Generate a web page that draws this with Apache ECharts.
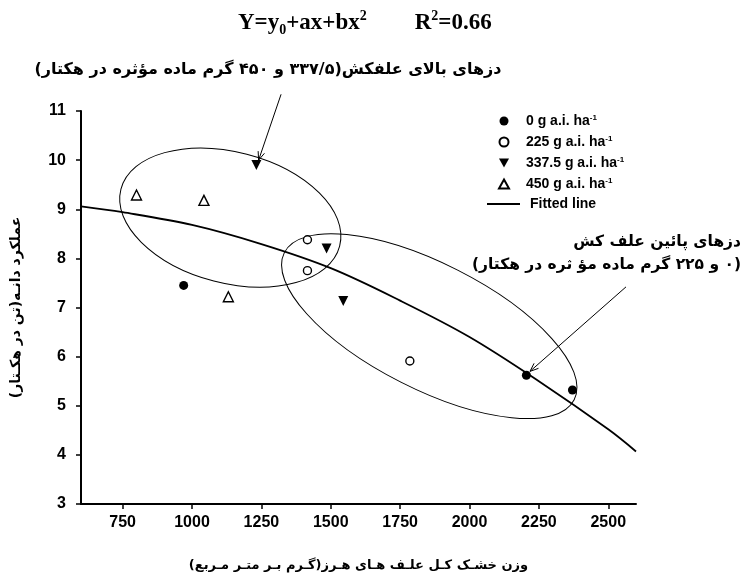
<!DOCTYPE html>
<html><head><meta charset="utf-8">
<script src="https://cdn.jsdelivr.net/npm/echarts@6/dist/echarts.min.js"></script>
<style>html,body{margin:0;padding:0;background:#fff}#c{width:748px;height:579px}</style>
</head><body><div id="c"></div>
<script>
// ---- data ----
const xTicks = [750, 1000, 1250, 1500, 1750, 2000, 2250, 2500];
const dose0    = [[970, 7.45], [2205, 5.62], [2371, 5.32]];
const dose225  = [[1416, 8.38], [1416, 7.75], [1785, 5.91]];
const dose3375 = [[1232, 9.90], [1485, 8.20], [1545, 7.13]];
const dose450  = [[800, 9.29], [1043, 9.18], [1131, 7.22]];
const fitted   = [[600, 9.06], [750, 8.94], [1000, 8.68], [1250, 8.29], [1500, 7.80], [1750, 7.14], [2000, 6.40], [2250, 5.50], [2500, 4.52], [2600, 4.07]];
const seriesNames = ['0 g a.i. ha', '225 g a.i. ha', '337.5 g a.i. ha', '450 g a.i. ha', 'Fitted line'];
const xName = 'وزن خشـک کـل علـف هـای هـرز(گـرم بـر متـر مـربع)';
const yName = 'عملکرد دانـه(تن در هکـتار)';
const noteHigh = '\u200Fدزهای بالای علفکش(۳۳۷/۵ و ۴۵۰ گرم ماده مؤثره در هکتار)\u200F';
const noteLow1 = '\u200Fدزهای پائین علف کش\u200F';
const noteLow2 = '\u200F(۰ و ۲۲۵ گرم ماده مؤ ثره در هکتار)\u200F';
// annotation geometry (data space centres / anchors)
const ellipseHigh = {c: [1138, 8.83]};
const ellipseLow  = {c: [1855, 6.62]};
const arrowHigh = {from: [1321, 11.34], to: [1240, 10.0]};
const arrowLow  = {from: [2564, 7.42], to: [2218, 5.70]};

const F = "'Liberation Sans',Arial,sans-serif";
const AR = "'DejaVu Sans',sans-serif";

const chart = echarts.init(document.getElementById('c'));
const open = {color: '#fff', borderColor: '#000', borderWidth: 1.4, opacity: 1};
const solid = {color: '#000', opacity: 1};
chart.setOption({
  animation: false,
  backgroundColor: '#fff',
  title: {
    text: '{n|Y=y}{sub|0}{n|+ax+bx}{sup|2}{g|}{n|R}{sup|2}{n|=0.66}',
    left: 233, top: 4,
    textStyle: {
      rich: {
        n: {fontFamily: "'Liberation Serif','Times New Roman',serif", fontSize: 23, color: '#000', lineHeight: 28, verticalAlign: 'middle'},
        sub: {fontFamily: "'Liberation Serif',serif", fontSize: 14, color: '#000', lineHeight: 16, verticalAlign: 'bottom'},
        sup: {fontFamily: "'Liberation Serif',serif", fontSize: 14, color: '#000', lineHeight: 14, verticalAlign: 'top'},
        g: {width: 48}
      }
    }
  },
  grid: {left: 81, right: 112, top: 111, bottom: 75, containLabel: false, outerBoundsMode: 'none'},
  legend: [{
    orient: 'vertical', left: 493, top: 109,
    itemWidth: 10, itemHeight: 9, itemGap: 7, symbolRotate: 0,
    data: [
      {name: seriesNames[0], icon: 'circle'},
      {name: seriesNames[1], icon: 'circle'},
      {name: seriesNames[2], icon: 'path://M0,0L10,0L5,9Z'},
      {name: seriesNames[3], icon: 'path://M5,0L10,9L0,9Z'}
    ],
    formatter: n => '{t|' + n + '}{s|-1}',
    textStyle: {
      rich: {
        t: {fontFamily: F, fontWeight: 'bold', fontSize: 14, color: '#000', lineHeight: 14, padding: [0, 0, 0, 12]},
        s: {fontFamily: F, fontWeight: 'bold', fontSize: 8, color: '#000', lineHeight: 8, verticalAlign: 'top'}
      }
    }
  }, {
    orient: 'vertical', left: 482, top: 192,
    itemWidth: 33, itemHeight: 2, icon: 'rect',
    data: [seriesNames[4]],
    formatter: n => '{t|' + n + '}',
    textStyle: {
      rich: {
        t: {fontFamily: F, fontWeight: 'bold', fontSize: 14, color: '#000', lineHeight: 14, padding: [0, 0, 0, 5]}
      }
    }
  }],
  xAxis: {
    type: 'value', min: 600, max: 2600,
    name: xName, nameLocation: 'middle', nameGap: 55,
    nameTextStyle: {fontFamily: AR, fontWeight: 'bold', fontSize: 13, color: '#000'},
    axisLine: {show: true, lineStyle: {color: '#000', width: 2}},
    axisTick: {show: true, length: 5, lineStyle: {color: '#000', width: 1.5}, customValues: xTicks},
    axisLabel: {customValues: xTicks, margin: 11, fontFamily: F, fontWeight: 'bold', fontSize: 16, color: '#000', formatter: v => String(v)},
    splitLine: {show: false}
  },
  yAxis: {
    type: 'value', min: 3, max: 11, interval: 1,
    name: yName, nameLocation: 'middle', nameGap: 58,
    nameTextStyle: {fontFamily: AR, fontWeight: 'bold', fontSize: 14, color: '#000'},
    axisLine: {show: true, lineStyle: {color: '#000', width: 2}},
    axisTick: {show: true, length: 5, lineStyle: {color: '#000', width: 1.5}},
    axisLabel: {margin: 15, fontFamily: F, fontWeight: 'bold', fontSize: 16, color: '#000'},
    splitLine: {show: false}
  },
  series: [
    {name: seriesNames[0], type: 'scatter', data: dose0, symbol: 'circle', symbolSize: 9, itemStyle: solid, z: 5},
    {name: seriesNames[1], type: 'scatter', data: dose225, symbol: 'circle', symbolSize: 8, itemStyle: open, z: 5},
    {name: seriesNames[2], type: 'scatter', data: dose3375, symbol: 'triangle', symbolRotate: 180, symbolSize: 10, itemStyle: solid, z: 5},
    {name: seriesNames[3], type: 'scatter', data: dose450, symbol: 'triangle', symbolSize: 10, itemStyle: open, z: 5},
    {name: seriesNames[4], type: 'line', data: fitted, smooth: 0.35, symbol: 'none', showSymbol: false,
     lineStyle: {color: '#000', width: 1.8}, itemStyle: {color: '#000'}, z: 3}
  ]
});

function px(p) { return chart.convertToPixel({gridIndex: 0}, p); }
function arrow(a) {
  const s = px(a.from), e = px(a.to);
  const ang = Math.atan2(e[1] - s[1], e[0] - s[0]);
  const L = 9, w = 0.38;
  const h1 = [e[0] - L * Math.cos(ang - w), e[1] - L * Math.sin(ang - w)];
  const h2 = [e[0] - L * Math.cos(ang + w), e[1] - L * Math.sin(ang + w)];
  const st = {stroke: '#000', lineWidth: 1, fill: null};
  return [
    {type: 'line', shape: {x1: s[0], y1: s[1], x2: e[0], y2: e[1]}, style: st, z: 10},
    {type: 'polyline', shape: {points: [h1, e, h2]}, style: st, z: 10}
  ];
}
function ellipse(el, rx, ry, deg) {
  const c = px(el.c);
  return {type: 'ellipse', x: c[0], y: c[1], rotation: -deg * Math.PI / 180,
    shape: {cx: 0, cy: 0, rx: rx, ry: ry}, style: {stroke: '#000', lineWidth: 1, fill: null}, z: 4};
}
const g = [
  ellipse(ellipseHigh, 113, 65.5, 14.6),
  ellipse(ellipseLow, 162.5, 62.8, 26.9),
  ...arrow(arrowHigh), ...arrow(arrowLow),
  {type: 'text', x: 268, y: 70, style: {text: noteHigh, font: "bold 16px 'DejaVu Sans'", fill: '#000', textAlign: 'center', textVerticalAlign: 'middle'}, z: 10},
  {type: 'text', x: 741, y: 242, style: {text: noteLow1, font: "bold 15.5px 'DejaVu Sans'", fill: '#000', textAlign: 'right', textVerticalAlign: 'middle'}, z: 10},
  {type: 'text', x: 741, y: 265, style: {text: noteLow2, font: "bold 15.5px 'DejaVu Sans'", fill: '#000', textAlign: 'right', textVerticalAlign: 'middle'}, z: 10}
];
chart.setOption({graphic: g});
</script>
</body></html>
